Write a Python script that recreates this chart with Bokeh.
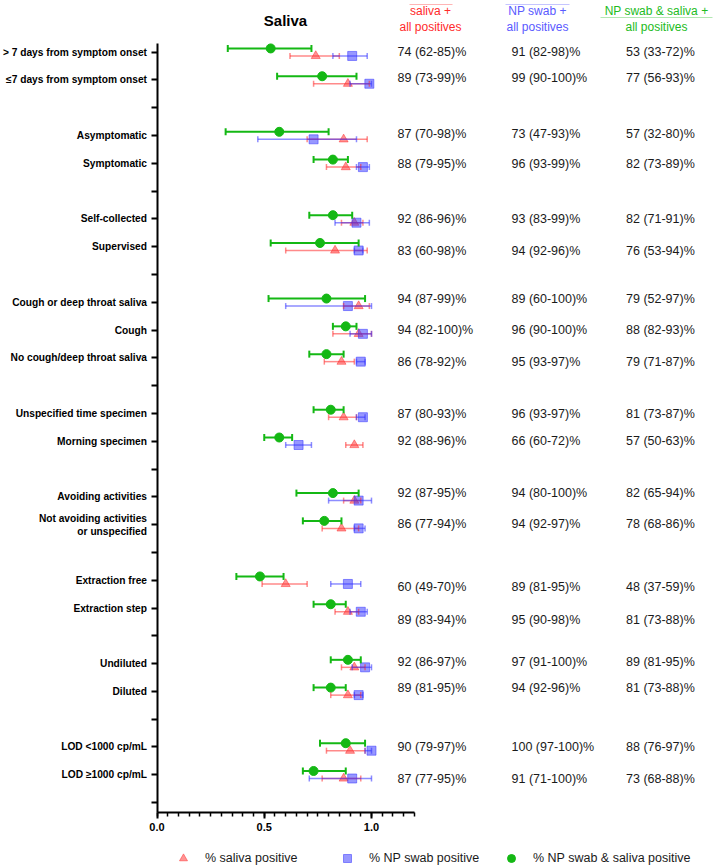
import numpy as np
from bokeh.plotting import figure
from bokeh.models import (Range1d, LinearAxis, FixedTicker, ColumnDataSource, Whisker, TeeHead,
                          Legend, LegendItem)
from bokeh.core.properties import value
from bokeh.embed import file_html
from bokeh.resources import INLINE

# ---------------- data ----------------
row_labels = [
    "> 7 days from symptom onset", "≤7 days from symptom onset", "",
    "Asymptomatic", "Symptomatic", "",
    "Self-collected", "Supervised", "",
    "Cough or deep throat saliva", "Cough", "No cough/deep throat saliva", "",
    "Unspecified time specimen", "Morning specimen", "",
    "Avoiding activities", "Not avoiding activities\nor unspecified", "",
    "Extraction free", "Extraction step", "",
    "Undiluted", "Diluted", "",
    "LOD <1000 cp/mL", "LOD ≥1000 cp/mL", "",
]

saliva    = [74, 89, 87, 88, 92, 83, 94, 94, 86, 87, 92, 92, 86, 60, 89, 92, 89, 90, 87]
saliva_lo = [62, 73, 70, 79, 86, 60, 87, 82, 78, 80, 88, 87, 77, 49, 83, 86, 81, 79, 77]
saliva_hi = [85, 99, 98, 95, 96, 98, 99, 100, 92, 93, 96, 95, 94, 70, 94, 97, 95, 97, 95]

np_swab    = [91, 99, 73, 96, 93, 94, 89, 96, 95, 96, 66, 94, 94, 89, 95, 97, 94, 100, 91]
np_swab_lo = [82, 90, 47, 93, 83, 92, 60, 90, 93, 93, 60, 80, 92, 81, 90, 91, 92, 97, 71]
np_swab_hi = [98, 100, 93, 99, 99, 96, 100, 100, 97, 97, 72, 100, 97, 95, 98, 100, 96, 100, 100]

both    = [53, 77, 57, 82, 82, 76, 79, 88, 79, 81, 57, 82, 78, 48, 81, 89, 81, 88, 73]
both_lo = [33, 56, 32, 73, 71, 53, 52, 82, 71, 73, 50, 65, 68, 37, 73, 81, 73, 76, 68]
both_hi = [72, 93, 80, 89, 91, 94, 97, 93, 87, 87, 63, 94, 86, 59, 88, 95, 88, 97, 88]

col_headers = [("saliva +", "all positives"), ("NP swab +", "all positives"),
               ("NP swab & saliva +", "all positives")]
legend_labels = ["% saliva positive", "% NP swab positive", "% NP swab & saliva positive"]

# ---------------- layout helpers (page pixels -> data) ----------------
W, H = 720, 868
ORG = 0                    # page px of figure's top-left corner
X0, XS = 156.5, 214.5      # page px of x=0, px per unit
Y0, YS = 51.7, 27.79       # page px of row 0, px per row

def dx(px):
    return (px - X0) / XS

def dy(py):
    return (py - Y0) / YS

rows = [i for i, l in enumerate(row_labels) if l != ""]
rows = np.array(rows, dtype=float)
text_nudge_px = np.array([0, -2, -2, 1, 0, 4, -3, 0, 4, 1, 0, -4, -1, 7, 12, -2, -3, 0, 4])

GREEN = "#14b814"
RED = "#ff2a2a"
BLUE = "#3030ff"
FONT = value("Liberation Sans")

p = figure(width=W, height=H, x_range=Range1d(dx(ORG), dx(ORG + W)),
           y_range=Range1d(dy(ORG + H), dy(ORG)),
           x_axis_type=None, y_axis_type=None, output_backend="svg",
           toolbar_location=None, min_border=0)
p.outline_line_color = None
p.background_fill_color = "white"

# axes
xaxis = LinearAxis(fixed_location=dy(811.7), bounds=(0, 1.2),
                   ticker=FixedTicker(ticks=[0, 0.5, 1.0],
                                      minor_ticks=[round(0.05 * k, 2) for k in range(25)]),
                   major_label_overrides={0: "0.0", 0.5: "0.5", 1: "1.0"})
xaxis.axis_line_width = 2
xaxis.major_tick_line_width = 2
xaxis.minor_tick_line_width = 1.5
xaxis.major_tick_out = 6
xaxis.major_tick_in = 0
xaxis.minor_tick_out = 4
xaxis.minor_tick_in = 0
xaxis.major_label_text_font = "Liberation Sans"
xaxis.major_label_text_font_style = "bold"
xaxis.major_label_text_font_size = "11px"
xaxis.major_label_text_color = "black"
p.add_layout(xaxis, "below")

yaxis = LinearAxis(fixed_location=0, bounds=(dy(42.7), dy(811.7)),
                   ticker=FixedTicker(ticks=list(range(len(row_labels))), minor_ticks=[]),
                   major_label_overrides={i: l for i, l in enumerate(row_labels)})
yaxis.axis_line_width = 2
yaxis.major_tick_line_width = 2
yaxis.major_tick_out = 6
yaxis.major_tick_in = 0
yaxis.minor_tick_out = 0
yaxis.major_label_standoff = 4
yaxis.major_label_text_font = "Liberation Sans"
yaxis.major_label_text_font_style = "bold"
yaxis.major_label_text_font_size = "10.2px"
yaxis.major_label_text_color = "black"
p.add_layout(yaxis, "left")

off = 0.135
src = ColumnDataSource(dict(
    y_g=rows - off, y_r=rows + off, y_b=rows + off,
    sal=np.array(saliva) / 100, sal_lo=np.array(saliva_lo) / 100, sal_hi=np.array(saliva_hi) / 100,
    nps=np.array(np_swab) / 100, nps_lo=np.array(np_swab_lo) / 100, nps_hi=np.array(np_swab_hi) / 100,
    bo=np.array(both) / 100, bo_lo=np.array(both_lo) / 100, bo_hi=np.array(both_hi) / 100,
))

def whisker(lo, hi, base, color, alpha, lw, head):
    w = Whisker(source=src, base=base, lower=lo, upper=hi, dimension="width",
                line_color=color, line_alpha=alpha, line_width=lw, level="glyph",
                upper_head=TeeHead(size=head, line_color=color, line_alpha=alpha, line_width=lw),
                lower_head=TeeHead(size=head, line_color=color, line_alpha=alpha, line_width=lw))
    p.add_layout(w)

whisker("sal_lo", "sal_hi", "y_r", RED, 0.55, 1.5, 6)
whisker("nps_lo", "nps_hi", "y_b", BLUE, 0.55, 1.5, 6)
whisker("bo_lo", "bo_hi", "y_g", GREEN, 1.0, 2, 7)

r_red = p.scatter("sal", "y_r", source=src, marker="triangle", size=9,
                  fill_color=RED, line_color=RED, fill_alpha=0.5, line_alpha=0.5)
r_blue = p.scatter("nps", "y_b", source=src, marker="square", size=9,
                   fill_color=BLUE, line_color=BLUE, fill_alpha=0.5, line_alpha=0.5)
r_green = p.scatter("bo", "y_g", source=src, marker="circle", size=9,
                    fill_color=GREEN, line_color=GREEN)

# value columns
ty = rows + text_nudge_px / YS
cols = [(dx(397), saliva, saliva_lo, saliva_hi),
        (dx(511), np_swab, np_swab_lo, np_swab_hi),
        (dx(625.5), both, both_lo, both_hi)]
for cx, v, lo, hi in cols:
    txt = [f"{a} ({b}-{c})%" for a, b, c in zip(v, lo, hi)]
    p.text(x=[cx] * len(txt), y=ty, text=txt, text_font=FONT, text_font_size="12.5px",
           text_baseline="middle", text_align="left", text_color="#1a1a1a")

# headers
hdr_colors = [RED, "#5a5aff", "#22bb22"]
hdr_x = [dx(430), dx(537), dx(656)]
for (l1, l2), c, hx in zip(col_headers, hdr_colors, hdr_x):
    p.text(x=[hx, hx], y=[dy(10), dy(26)], text=[l1, l2], text_font=FONT,
           text_font_size="12px", text_align="center", text_baseline="middle", text_color=c)
# faint header rules
p.segment(x0=[dx(409), dx(505), dx(600)], x1=[dx(452), dx(569), dx(712)],
          y0=[dy(4), dy(4), dy(17)], y1=[dy(4), dy(4), dy(17)],
          line_color=[RED, "#5a5aff", "#22bb22"], line_alpha=0.35, line_width=1)

# title
p.text(x=[dx(285)], y=[dy(20)], text=["Saliva"], text_font=FONT, text_font_size="15px",
       text_font_style="bold", text_align="center", text_baseline="middle", text_color="black")

legend = Legend(items=[LegendItem(label=legend_labels[0], renderers=[r_red]),
                       LegendItem(label=legend_labels[1], renderers=[r_blue]),
                       LegendItem(label=legend_labels[2], renderers=[r_green])],
                orientation="horizontal", location=(173 - ORG, ORG + H - 858 - 10),
                padding=0, spacing=0, margin=0,
                label_width=132, label_standoff=12, glyph_width=20, glyph_height=20,
                border_line_color=None, background_fill_alpha=0,
                label_text_font="Liberation Sans", label_text_font_size="12.5px",
                label_text_color="#1a1a1a")
p.add_layout(legend)

open("out.html", "w").write(file_html(p, INLINE))
